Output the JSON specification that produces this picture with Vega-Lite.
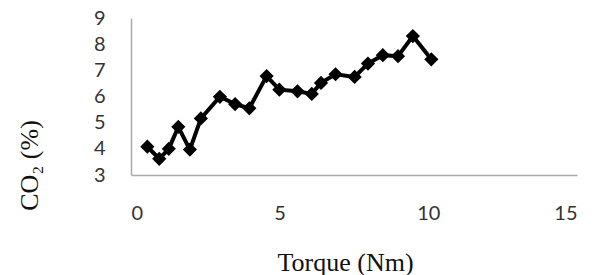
{
  "$schema": "https://vega.github.io/schema/vega-lite/v6.json",
  "autosize": "none",
  "width": 446,
  "height": 157,
  "padding": {"left": 131, "top": 18, "right": 24, "bottom": 100},
  "background": "white",
  "data": {"values": [
    {"torque": 0.55, "co2": 4.08},
    {"torque": 0.95, "co2": 3.62},
    {"torque": 1.27, "co2": 4.0},
    {"torque": 1.59, "co2": 4.84},
    {"torque": 1.98, "co2": 3.97},
    {"torque": 2.35, "co2": 5.16},
    {"torque": 2.99, "co2": 5.99},
    {"torque": 3.5, "co2": 5.71},
    {"torque": 3.98, "co2": 5.55},
    {"torque": 4.56, "co2": 6.78},
    {"torque": 4.99, "co2": 6.26},
    {"torque": 5.6, "co2": 6.2},
    {"torque": 6.08, "co2": 6.1},
    {"torque": 6.39, "co2": 6.52},
    {"torque": 6.88, "co2": 6.85},
    {"torque": 7.52, "co2": 6.75},
    {"torque": 7.97, "co2": 7.26},
    {"torque": 8.47, "co2": 7.58},
    {"torque": 8.98, "co2": 7.54},
    {"torque": 9.48, "co2": 8.31},
    {"torque": 10.1, "co2": 7.42}
  ]},
  "encoding": {
    "x": {
      "field": "torque", "type": "quantitative",
      "scale": {"domain": [0, 15], "nice": false, "zero": false},
      "axis": {
        "values": [0, 5, 10, 15], "grid": false, "ticks": false,
        "domainColor": "#aaaaaa", "domainWidth": 1.5,
        "labelFont": "Lato", "labelFontSize": 20, "labelColor": "#333333",
        "labelPadding": 28,
        "title": "Torque (Nm)", "titleFont": "Liberation Serif", "titleFontSize": 26,
        "titleFontWeight": "normal", "titleColor": "#111111",
        "titleX": 214, "titleY": 87, "titleBaseline": "middle", "titleAnchor": "middle"
      }
    },
    "y": {
      "field": "co2", "type": "quantitative",
      "scale": {"domain": [3, 9], "nice": false, "zero": false},
      "axis": {
        "values": [3, 4, 5, 6, 7, 8, 9], "grid": false, "ticks": false,
        "domainColor": "#aaaaaa", "domainWidth": 1.5,
        "labelFont": "Lato", "labelFontSize": 20, "labelColor": "#333333",
        "labelPadding": 26,
        "title": "CO₂ (%)", "titleFont": "Liberation Serif", "titleFontSize": 26,
        "titleFontWeight": "normal", "titleColor": "#111111",
        "titleAngle": -90, "titleX": -102, "titleY": 147,
        "titleBaseline": "middle", "titleAlign": "center"
      }
    }
  },
  "layer": [
    {"mark": {"type": "line", "color": "black", "strokeWidth": 4}},
    {"mark": {"type": "point", "shape": "diamond", "filled": true, "size": 130, "color": "black", "opacity": 1, "stroke": "black", "strokeWidth": 2}}
  ],
  "config": {"view": {"stroke": null}}
}
